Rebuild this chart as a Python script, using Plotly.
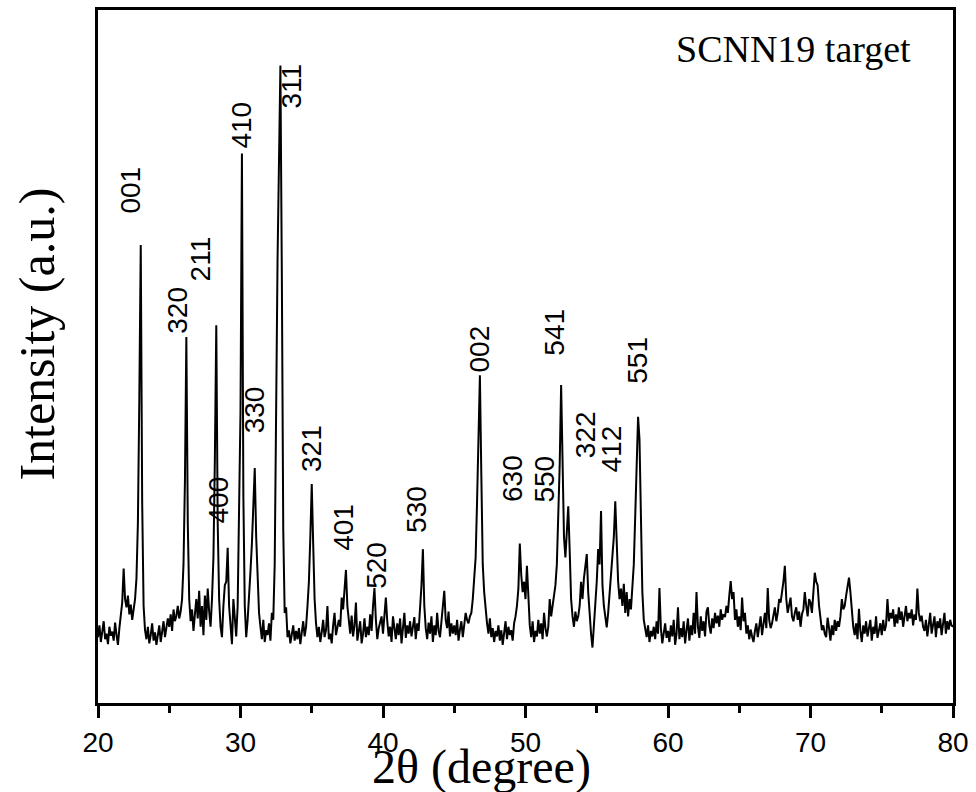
import plotly.graph_objects as go

# ---- data (2theta grid 20.0 .. 80.0, step 0.1) ----
two_theta_start = 20.0
two_theta_step = 0.1

intensity = [
    # 20.x
    95, 112, 88, 104, 118, 92, 100, 85, 110, 97,
    # 21.x
    103, 90, 116, 98, 84, 108, 132, 145, 194, 150,
    # 22.x
    138, 155, 128, 142, 120, 135, 150, 180, 260, 440,
    # 23.x
    661, 290, 140, 105, 92, 110, 86, 98, 115, 90,
    # 24.x
    102, 84, 96, 112, 88, 100, 118, 95, 106, 122,
    # 25.x
    110, 128, 104, 135, 118, 126, 140, 122, 132, 150,
    # 26.x
    200, 320, 528, 260, 150, 118, 135, 104, 128, 150,
    # 27.x
    122, 162, 110, 140, 98, 155, 120, 165, 132, 110,
    # 28.x
    150, 210, 350, 545, 260, 150, 110, 95, 140, 170,
    # 29.x
    175, 224, 140, 105, 85, 150, 118, 96, 140, 260,
    # 30.x
    420, 793, 300, 140, 95, 120, 150, 190, 230, 280,
    # 31.x
    339, 240, 170, 130, 110, 92, 120, 88, 105, 98,
    # 32.x
    115, 90, 130, 120, 200, 450, 640, 780, 920, 620,
    # 33.x
    250, 130, 138, 95, 105, 86, 98, 112, 90, 104,
    # 34.x
    92, 108, 85, 100, 118, 96, 110, 140, 175, 240,
    # 35.x
    316, 230, 150, 115, 95, 110, 88, 102, 120, 95,
    # 36.x
    105, 140, 92, 100, 86, 112, 130, 98, 108, 120,
    # 37.x
    110, 152, 135, 165, 192, 140, 118, 100, 126, 96,
    # 38.x
    112, 145, 90, 104, 118, 86, 100, 122, 95, 110,
    # 39.x
    98, 128, 104, 140, 166, 120, 92, 108, 118, 125,
    # 40.x
    100, 135, 152, 118, 96, 110, 88, 125, 104, 92,
    # 41.x
    115, 98, 122, 86, 108, 130, 94, 112, 100, 118,
    # 42.x
    96, 110, 124, 92, 115, 104, 135, 170, 222, 140,
    # 43.x
    108, 92, 116, 100, 125, 88, 112, 98, 130, 104,
    # 44.x
    95, 118, 140, 162, 120, 108, 132, 96, 115, 100,
    # 45.x
    112, 98, 120, 90, 106, 118, 95, 110, 130, 120,
    # 46.x
    115, 125, 130, 150, 175, 210, 290, 380, 473, 330,
    # 47.x
    200, 160, 130, 115, 100, 122, 95, 108, 88, 104,
    # 48.x
    96, 112, 90, 105, 84, 100, 118, 92, 110, 98,
    # 49.x
    105, 90, 115, 125, 140, 165, 230, 185, 160, 175,
    # 50.x
    150, 198, 140, 112, 95, 118, 88, 104, 96, 120,
    # 51.x
    100, 115, 92, 130, 108, 96, 110, 150, 125, 140,
    # 52.x
    150, 170, 200, 260, 344, 459, 320, 240, 210, 260,
    # 53.x
    284, 220, 150, 125, 110, 132, 118, 125, 140, 175,
    # 54.x
    150, 180, 200, 215, 160, 120, 100, 80, 110, 140,
    # 55.x
    175, 222, 200, 277, 170, 140, 120, 109, 130, 160,
    # 56.x
    180, 210, 240, 291, 230, 175, 150, 165, 140, 172,
    # 57.x
    130, 160, 125, 150, 135, 170, 200, 270, 360, 413,
    # 58.x
    380, 260, 160, 120, 109, 95, 112, 88, 104, 96,
    # 59.x
    110, 92, 118, 100, 166, 108, 86, 102, 115, 94,
    # 60.x
    104, 88, 112, 96, 120, 84, 100, 138, 92, 108,
    # 61.x
    95, 118, 86, 105, 122, 90, 112, 98, 130, 100,
    # 62.x
    160, 110, 94, 125, 104, 118, 96, 132, 138, 112,
    # 63.x
    100, 122, 108, 130, 115, 126, 110, 135, 120, 128,
    # 64.x
    124, 140, 130, 155, 176, 150, 160, 120, 135, 110,
    # 65.x
    125, 105, 152, 118, 130, 100, 112, 92, 106, 96,
    # 66.x
    88, 104, 115, 95, 110, 125, 98, 118, 130, 108,
    # 67.x
    166, 120, 108, 115, 125, 138, 118, 130, 150, 145,
    # 68.x
    160, 175, 198, 150, 130, 140, 152, 125, 118, 130,
    # 69.x
    138, 120, 132, 110, 128, 135, 160, 140, 125, 150,
    # 70.x
    145, 130, 160, 188, 175, 170, 140, 118, 105, 112,
    # 71.x
    100, 95, 123, 108, 90, 112, 98, 120, 104, 118,
    # 72.x
    110, 125, 150, 135, 140, 155, 170, 181, 160, 130,
    # 73.x
    110, 98, 115, 92, 136, 104, 88, 112, 100, 118,
    # 74.x
    96, 108, 120, 90, 110, 100, 125, 94, 106, 115,
    # 75.x
    98, 120, 104, 112, 150, 118, 130, 122, 135, 110,
    # 76.x
    128, 115, 138, 120, 132, 110, 125, 140, 118, 130,
    # 77.x
    122, 135, 112, 128, 120, 165, 130, 118, 126, 110,
    # 78.x
    104, 120, 96, 115, 130, 100, 112, 125, 95, 118,
    # 79.x
    108, 122, 98, 112, 130, 100, 118, 106, 120, 112,
    # 80.0
    110,
]

two_theta = [round(two_theta_start + i * two_theta_step, 2) for i in range(len(intensity))]

# peak (hkl) labels and where they sit (2theta, intensity)
peak_labels = ["001", "320", "211", "400", "410", "311", "330", "321", "401",
               "520", "530", "002", "630", "550", "541", "322", "412", "551"]
label_x = [22.27, 25.52, 27.20, 28.46, 30.07, 33.57, 30.98, 34.97, 37.27,
           39.58, 42.38, 46.78, 49.09, 51.33, 52.03, 54.20, 56.01, 57.90]
label_y = [740, 567, 641, 293, 834, 890, 423, 367, 253,
           198, 280, 511, 324, 323, 535, 387, 366, 494]

x_ticks = [20, 30, 40, 50, 60, 70, 80]

fig = go.Figure()
fig.add_trace(go.Scatter(
    x=two_theta, y=intensity, mode="lines",
    line=dict(color="black", width=2),
    showlegend=False, hoverinfo="skip",
))

for txt, lx, ly in zip(peak_labels, label_x, label_y):
    fig.add_annotation(
        x=lx, y=ly, xref="x", yref="y", text=txt, showarrow=False,
        textangle=-90, xanchor="center", yanchor="middle",
        font=dict(family="Liberation Sans, Arial, sans-serif", size=28, color="black"),
    )

fig.add_annotation(
    x=0.449, y=-0.092, xref="paper", yref="paper", text="2θ (degree)",
    showarrow=False, xanchor="center", yanchor="middle",
    font=dict(family="Liberation Serif, Times New Roman, serif", size=48, color="black"),
)
fig.add_annotation(
    x=-0.071, y=0.532, xref="paper", yref="paper", text="Intensity (a.u.)",
    showarrow=False, textangle=-90, xanchor="center", yanchor="middle",
    font=dict(family="Liberation Serif, Times New Roman, serif", size=50, color="black"),
)
fig.add_annotation(
    x=0.8135, y=0.944, xref="paper", yref="paper", text="SCNN19 target",
    showarrow=False, xanchor="center", yanchor="middle",
    font=dict(family="Liberation Serif, Times New Roman, serif", size=38, color="black"),
)

fig.update_layout(
    width=976, height=792,
    margin=dict(l=98, r=20, t=7, b=89),
    paper_bgcolor="white", plot_bgcolor="white",
    xaxis=dict(
        range=[20, 80], tickvals=x_ticks, ticktext=[str(v) for v in x_ticks],
        ticks="outside", ticklen=12, tickwidth=3, tickcolor="black",
        minor=dict(dtick=5, tick0=20, ticks="outside", ticklen=7, tickwidth=3, tickcolor="black"),
        showline=True, linewidth=3, linecolor="black", mirror=True,
        showgrid=False, zeroline=False,
        tickfont=dict(family="Liberation Sans, Arial, sans-serif", size=28, color="black"),
    ),
    yaxis=dict(
        range=[0, 1000], showticklabels=False, ticks="",
        showline=True, linewidth=3, linecolor="black", mirror=True,
        showgrid=False, zeroline=False,
    ),
)

fig.write_html("out.html")
